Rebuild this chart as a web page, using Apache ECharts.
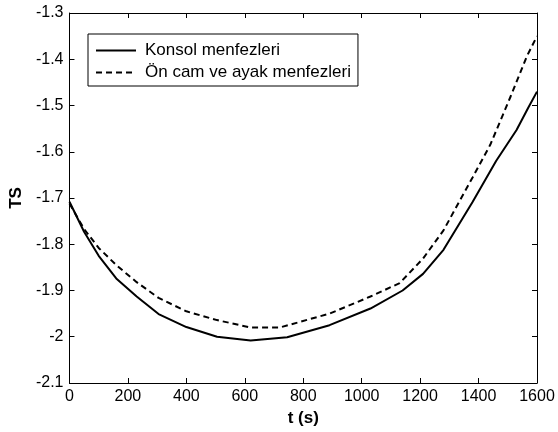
<!DOCTYPE html>
<html>
<head>
<meta charset="utf-8">
<script src="https://cdn.jsdelivr.net/npm/echarts@6/dist/echarts.min.js"></script>
<style>
  html, body { margin: 0; padding: 0; background: #fff; }
  #chart { width: 558px; height: 432px; }
</style>
</head>
<body>
<div id="chart"></div>
<script>
// Time (s) and TS values for the two vent configurations
const konsolTime = [0, 50, 100, 160, 230, 305, 400, 505, 620, 745, 890, 1030, 1140, 1210, 1280, 1380, 1460, 1530, 1570, 1600];
const konsolTS   = [-1.708, -1.773, -1.825, -1.874, -1.913, -1.951, -1.979, -2.000, -2.008, -2.001, -1.975, -1.939, -1.900, -1.864, -1.812, -1.708, -1.620, -1.553, -1.505, -1.470];

const onCamTime = [0, 50, 100, 160, 230, 305, 400, 505, 620, 720, 890, 1030, 1130, 1210, 1280, 1380, 1440, 1510, 1565, 1600];
const onCamTS   = [-1.712, -1.767, -1.808, -1.845, -1.882, -1.916, -1.945, -1.964, -1.980, -1.980, -1.950, -1.913, -1.884, -1.831, -1.770, -1.655, -1.585, -1.480, -1.394, -1.350];

const seriesNames = ['Konsol menfezleri', 'Ön cam ve ayak menfezleri'];

const xTicks = { min: 0, max: 1600, interval: 200 };
const yTicks = { min: -2.1, max: -1.3, interval: 0.1 };

const pair = (xs, ys) => xs.map((x, i) => [x, ys[i]]);

const font = 'Liberation Sans, Arial, Helvetica, sans-serif';

const chart = echarts.init(document.getElementById('chart'));

// Box frame: every side gets a black line with short inward ticks
function frameAxis(extra) {
  return Object.assign({
    type: 'value',
    axisLine: { show: true, onZero: false, lineStyle: { color: '#000', width: 1 } },
    axisTick: { show: true, inside: true, length: 5, lineStyle: { color: '#000', width: 1 } },
    splitLine: { show: false }
  }, extra);
}

chart.setOption({
  animation: false,
  backgroundColor: '#fff',
  grid: { left: 69, right: 21, top: 13, bottom: 49 },
  legend: {
    orient: 'vertical',
    left: 88,
    top: 34,
    padding: [8, 7, 5, 7],
    itemGap: 5,
    itemWidth: 40,
    itemHeight: 14,
    borderColor: '#000',
    borderWidth: 1,
    borderRadius: 0,
    backgroundColor: '#fff',
    itemStyle: { opacity: 0 },
    textStyle: { fontFamily: font, fontSize: 17, color: '#000', padding: [0, 0, 0, 4] },
    data: seriesNames
  },
  xAxis: [
    frameAxis({
      position: 'bottom',
      min: xTicks.min, max: xTicks.max, interval: xTicks.interval,
      name: 't (s)', nameLocation: 'middle', nameGap: 26,
      nameTextStyle: { fontFamily: font, fontSize: 17, fontWeight: 'bold', color: '#000' },
      axisLabel: { fontFamily: font, fontSize: 16, color: '#000', margin: 6, formatter: v => String(v) }
    }),
    frameAxis({
      position: 'top',
      min: xTicks.min, max: xTicks.max, interval: xTicks.interval,
      axisLabel: { show: false }
    })
  ],
  yAxis: [
    frameAxis({
      position: 'left',
      min: yTicks.min, max: yTicks.max, interval: yTicks.interval,
      name: 'TS', nameLocation: 'middle', nameGap: 43, nameRotate: 90,
      nameTextStyle: { fontFamily: font, fontSize: 17, fontWeight: 'bold', color: '#000' },
      axisLabel: {
        fontFamily: font, fontSize: 16, color: '#000', margin: 6,
        formatter: v => String(Math.round(v * 10) / 10)
      }
    }),
    frameAxis({
      position: 'right',
      min: yTicks.min, max: yTicks.max, interval: yTicks.interval,
      axisLabel: { show: false }
    })
  ],
  series: [
    {
      name: seriesNames[0], type: 'line', xAxisIndex: 0, yAxisIndex: 0,
      data: pair(konsolTime, konsolTS),
      smooth: false, showSymbol: false, symbol: 'none',
      lineStyle: { color: '#000', width: 2, type: 'solid' },
      itemStyle: { color: '#000' }
    },
    {
      name: seriesNames[1], type: 'line', xAxisIndex: 0, yAxisIndex: 0,
      data: pair(onCamTime, onCamTS),
      smooth: false, showSymbol: false, symbol: 'none',
      lineStyle: { color: '#000', width: 2, type: [6, 4] },
      itemStyle: { color: '#000' }
    }
  ]
});
</script>
</body>
</html>
